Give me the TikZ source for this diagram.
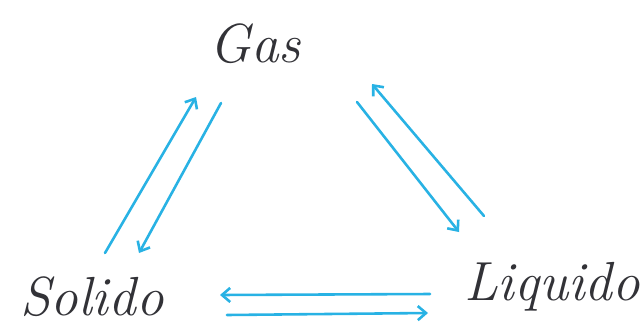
\documentclass[tikz,border=0pt]{standalone}
\usetikzlibrary{arrows.meta}
\definecolor{pen}{RGB}{40,178,228}
\definecolor{ink}{RGB}{50,50,55}
\tikzset{
  label/.style={font=\fontsize{47}{50}\selectfont\itshape, text=ink, inner sep=0pt},
  flow/.style={draw=pen, line width=2.2pt, line cap=round, -{Straight Barb[length=7pt,width=12pt,line width=2.2pt]}}
}
\begin{document}
\begin{tikzpicture}[x=0.03cm,y=-0.03cm]
\useasboundingbox (0,0) rectangle (644,327);
\fill[white] (0,0) rectangle (644,327);
\node[label] (gas) at (255,44) {Gas};
\node[label] (solido) at (92,297) {Solido};
\node[label] (liquido) at (552,287) {Liquido};
% left pair
\coordinate (sg1) at (105,253); \coordinate (sg2) at (196,97);
\coordinate (gs1) at (221,103); \coordinate (gs2) at (139,253);
% right pair
\coordinate (lg1) at (484,216); \coordinate (lg2) at (372,84);
\coordinate (gl1) at (357,102); \coordinate (gl2) at (459,232);
% bottom pair
\coordinate (ls1) at (430,294); \coordinate (ls2) at (220,295);
\coordinate (sl1) at (227,315); \coordinate (sl2) at (428,313);
\draw[flow] (sg1) -- (sg2);
\draw[flow] (gs1) -- (gs2);
\draw[flow] (lg1) -- (lg2);
\draw[flow] (gl1) -- (gl2);
\draw[flow] (ls1) -- (ls2);
\draw[flow] (sl1) -- (sl2);
\end{tikzpicture}
\end{document}
